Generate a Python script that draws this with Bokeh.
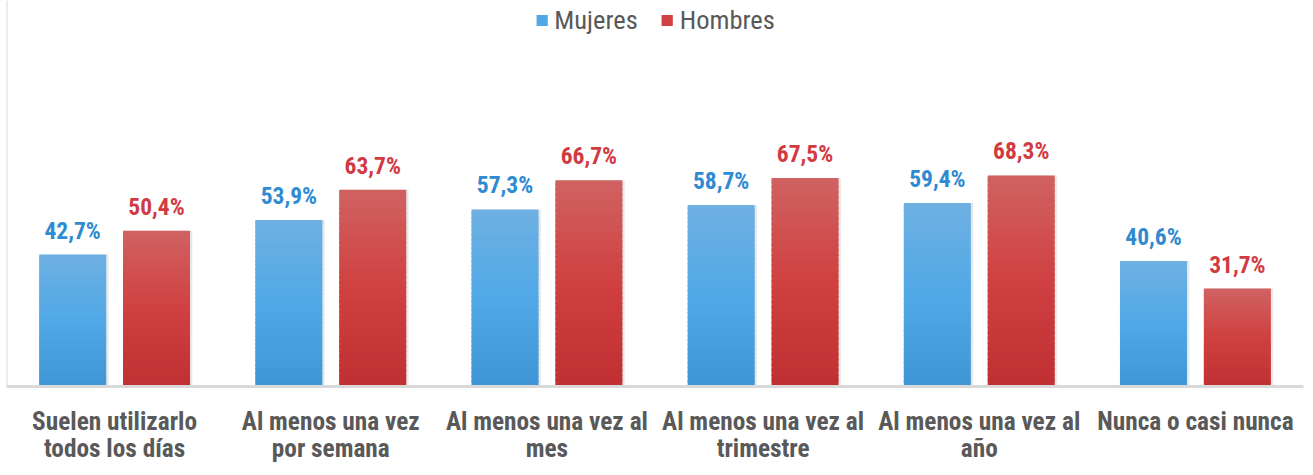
from bokeh.plotting import figure
from bokeh.models import ColumnDataSource, FactorRange, Range1d, Legend, LegendItem, Span
from bokeh.transform import dodge
from bokeh.embed import file_html
from bokeh.resources import INLINE
from bokeh.core.properties import value

categories = [
    "Suelen utilizarlo\ntodos los días",
    "Al menos una vez\npor semana",
    "Al menos una vez al\nmes",
    "Al menos una vez al\ntrimestre",
    "Al menos una vez al\naño",
    "Nunca o casi nunca",
]
mujeres = [42.7, 53.9, 57.3, 58.7, 59.4, 40.6]
hombres = [50.4, 63.7, 66.7, 67.5, 68.3, 31.7]
series_names = ["Mujeres", "Hombres"]

FONT = "Roboto Condensed, Arial Narrow, sans-serif"
N = 40

def lerp(c1, c2, t):
    return "#%02x%02x%02x" % tuple(int(round(a + (b - a) * t)) for a, b in zip(c1, c2))

blue_bottom, blue_mid, blue_top = (62, 150, 214), (80, 168, 230), (110, 176, 226)
red_bottom, red_mid, red_top = (192, 48, 50), (208, 64, 64), (208, 98, 98)

def grad(bot, mid, top, t):
    if t < 0.5:
        return lerp(bot, mid, t / 0.5)
    return lerp(mid, top, (t - 0.5) / 0.5)

def segments(vals, cols):
    xs, bots, tops, colors = [], [], [], []
    for c, v in zip(categories, vals):
        for k in range(N):
            xs.append(c)
            bots.append(v * k / N)
            tops.append(min(v, v * (k + 1.4) / N))
            colors.append(grad(*cols, (k + 0.5) / N))
    return ColumnDataSource(dict(x=xs, bottom=bots, top=tops, color=colors))

p = figure(
    x_range=FactorRange(*categories, range_padding=0),
    y_range=Range1d(0, 124.9),
    width=1305, height=475,
    output_backend="svg", toolbar_location=None,
    min_border_left=6, min_border_right=2, min_border_top=0, min_border_bottom=89,
)
p.outline_line_color = None
p.grid.visible = False
p.yaxis.visible = False
p.background_fill_color = "white"

off = 0.194
w = 0.31

lab = ColumnDataSource(dict(
    x=categories, m=mujeres, h=hombres,
    mt=[("%.1f%%" % v).replace(".", ",") for v in mujeres],
    ht=[("%.1f%%" % v).replace(".", ",") for v in hombres],
))

# soft shadows
for o, col in ((-off, "m"), (off, "h")):
    p.vbar(x=dodge("x", o + 0.008, range=p.x_range), top=col, bottom=-0.6, width=w + 0.006,
           source=lab, fill_color="#808080", fill_alpha=0.18, line_color=None)

src_m = segments(mujeres, (blue_bottom, blue_mid, blue_top))
src_h = segments(hombres, (red_bottom, red_mid, red_top))
r_m = p.vbar(x=dodge("x", -off, range=p.x_range), bottom="bottom", top="top", width=w,
             source=src_m, fill_color="color", line_color=None)
r_h = p.vbar(x=dodge("x", off, range=p.x_range), bottom="bottom", top="top", width=w,
             source=src_h, fill_color="color", line_color=None)

p.text(x=dodge("x", -off, range=p.x_range), y="m", text="mt", source=lab,
       text_align="center", text_baseline="bottom", y_offset=-10,
       text_font=value(FONT), text_font_style="bold", text_font_size="23.5px",
       text_color="#2e8bd2")
p.text(x=dodge("x", off, range=p.x_range), y="h", text="ht", source=lab,
       text_align="center", text_baseline="bottom", y_offset=-10,
       text_font=value(FONT), text_font_style="bold", text_font_size="23.5px",
       text_color="#d03a40")

ax = p.xaxis[0]
ax.axis_line_color = "#d9d9d9"
ax.axis_line_width = 3
ax.major_tick_line_color = None
ax.minor_tick_line_color = None
ax.major_label_standoff = 14
ax.major_label_text_font = FONT
ax.major_label_text_font_style = "bold"
ax.major_label_text_font_size = "25.3px"
ax.major_label_text_color = "#595959"
ax.major_label_text_line_height = 0.95

p.add_layout(Span(location=0, dimension="height", line_color="#d9d9d9", line_width=2))

legend = Legend(items=[
    LegendItem(label=series_names[0], renderers=[r_m], index=N // 2),
    LegendItem(label=series_names[1], renderers=[r_h], index=N // 2),
], location="top_center", orientation="horizontal")
legend.border_line_color = None
legend.background_fill_alpha = 0
legend.glyph_width = 14
legend.glyph_height = 14
legend.label_text_font = FONT
legend.label_text_font_size = "26.5px"
legend.label_text_color = "#595959"
legend.label_standoff = 6
legend.spacing = 22
legend.margin = 4
legend.padding = 0
p.add_layout(legend)

open("out.html", "w").write(file_html(p, INLINE))
